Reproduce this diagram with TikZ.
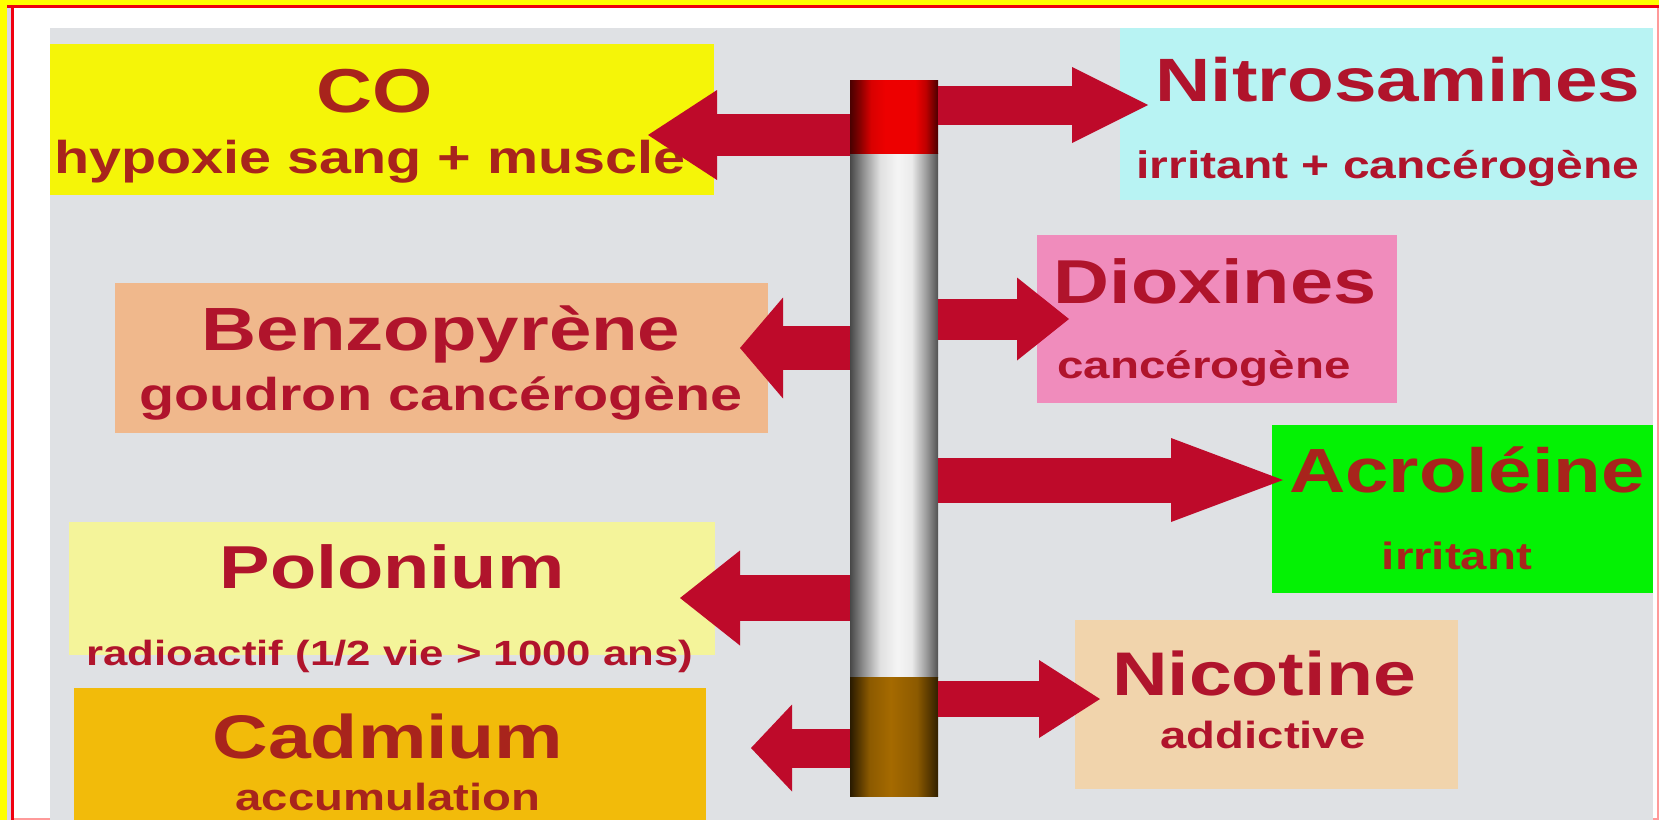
\documentclass[tikz,border=0pt]{standalone}
\usepackage{fontspec}
\newfontfamily\labelfont{Liberation Sans}[FakeStretch=1.25]
\usetikzlibrary{calc, positioning}
\usetikzlibrary{arrows.meta}
\definecolor{panelgray}{HTML}{DFE1E4}
\definecolor{framered}{HTML}{F00010}
\definecolor{framepink}{HTML}{FF9A9A}
\definecolor{frameyellow}{HTML}{FFFF00}
\definecolor{framelilac}{HTML}{D8D4EA}
\definecolor{coyellow}{HTML}{F5F508}
\definecolor{benzopeach}{HTML}{F0B88C}
\definecolor{polopale}{HTML}{F4F49A}
\definecolor{cadmorange}{HTML}{F2BB0A}
\definecolor{nitrocyan}{HTML}{B8F3F3}
\definecolor{dioxpink}{HTML}{F08CBC}
\definecolor{acrogreen}{HTML}{04F204}
\definecolor{nicobeige}{HTML}{F1D4AC}
\definecolor{labelred}{HTML}{B0142C}
\definecolor{labelbrown}{HTML}{A8241C}
\definecolor{arrowred}{HTML}{BE0A2A}
\definecolor{emberdark}{HTML}{4A0000}
\definecolor{filterbrown}{HTML}{A56A00}
\pgfdeclarehorizontalshading{embershade}{100bp}{
  color(0bp)=(emberdark); color(25bp)=(emberdark); color(30bp)=(red!50!black);
  color(37bp)=(red!85!black); color(45bp)=(red!93!black); color(62bp)=(red!93!black);
  color(68bp)=(red!75!black); color(75bp)=(emberdark); color(100bp)=(emberdark)}
\pgfdeclarehorizontalshading{papershade}{100bp}{
  color(0bp)=(black!72); color(25bp)=(black!72); color(33bp)=(black!42);
  color(42bp)=(black!12); color(52bp)=(black!4); color(60bp)=(black!8);
  color(68bp)=(black!38); color(75bp)=(black!68); color(100bp)=(black!68)}
\pgfdeclarehorizontalshading{filtershade}{100bp}{
  color(0bp)=(filterbrown!25!black); color(25bp)=(filterbrown!25!black);
  color(36bp)=(filterbrown!85!black); color(48bp)=(filterbrown); color(63bp)=(filterbrown!85!black);
  color(75bp)=(filterbrown!30!black); color(100bp)=(filterbrown!30!black)}
\tikzset{
  labelbox/.style={rectangle, anchor=north west, inner sep=0pt, outer sep=0pt},
  labeltext/.style={anchor=base, inner sep=0pt},
  cigpart/.style={rectangle, inner sep=0pt, outer sep=0pt, minimum width=44pt},
  blockarrow/.style={draw=arrowred, line cap=butt}
}
\begin{document}
\begin{tikzpicture}[x=0.5pt,y=-0.5pt,node distance=0pt]
\useasboundingbox (0,0) rectangle (1659,820);
\fill[white] (0,0) rectangle (1659,820);
\fill[frameyellow] (0,0) rectangle (1659,5);
\fill[frameyellow] (0,0) rectangle (7,820);
\fill[framelilac] (7,5) rectangle (11,820);
\fill[framered] (7,5) rectangle (1659,8);
\fill[framered] (11,5) rectangle (14,820);
\fill[framepink] (14,818) rectangle (1659,820);
\fill[framepink] (1657,8) rectangle (1659,820);
\fill[panelgray] (50,28) rectangle (1653,820);

\foreach \name/\xa/\ya/\xb/\yb/\tint in {CObox/50/44/714/195/coyellow,
    Benzobox/115/283/768/433/benzopeach,
    Polobox/69/522/715/655/polopale,
    Cadmbox/74/688/706/820/cadmorange,
    Nitrobox/1120/28/1653/200/nitrocyan,
    Dioxbox/1037/235/1397/403/dioxpink,
    Acrobox/1272/425/1653/593/acrogreen,
    Nicobox/1075/620/1458/789/nicobeige} {
  \pgfmathsetmacro{\boxw}{(\xb-\xa)/2}
  \pgfmathsetmacro{\boxh}{(\yb-\ya)/2}
  \node[labelbox, fill=\tint, minimum width=\boxw pt, minimum height=\boxh pt] (\name) at (\xa,\ya) {};
}

\foreach \name/\xpos/\ypos/\size/\ink/\words in {COhead/375/112/31/labelbrown/CO,
    COsub/370/173/23/labelbrown/hypoxie sang + muscle,
    Benzohead/441/350/30.5/labelred/Benzopyrène,
    Benzosub/441/410/23/labelred/goudron cancérogène,
    Polohead/392/588/30.3/labelred/Polonium,
    Polosub/390/665/17.5/labelred/{radioactif (1/2 vie > 1000 ans)},
    Cadmhead/388/758/30.8/labelbrown/Cadmium,
    Cadmsub/388/810/18.9/labelbrown/accumulation,
    Nitrohead/1398/101/30.6/labelred/Nitrosamines,
    Nitrosub/1388/178/19.2/labelred/irritant + cancérogène,
    Dioxhead/1215/303/31/labelred/Dioxines,
    Dioxsub/1204/378/19/labelred/cancérogène,
    Acrohead/1467/492/31.2/labelbrown/Acroléine,
    Acrosub/1457/569/19/labelbrown/irritant,
    Nicohead/1264/695/30.8/labelred/Nicotine,
    Nicosub/1263/748/18.9/labelred/addictive} {
  \node[labeltext, text=\ink, font=\labelfont\bfseries\fontsize{\size}{\size}\selectfont] (\name) at (\xpos,\ypos) {\words};
}

\node[cigpart, minimum height=262pt, shade, shading=papershade] (paper) at (894,415) {};
\node[cigpart, minimum height=36.5pt, shade, shading=embershade, above=of paper] (ember) {};
\node[cigpart, minimum height=59.5pt, shade, shading=filtershade, below=of paper] (filter) {};

\foreach \name/\side/\xtip/\ytip/\headl/\headw/\shaft in {COtip/west/648/135/34.5/45/21,
    Benzotip/west/740/348/21.5/50.5/22,
    Polotip/west/680/598/30/47.5/23,
    Cadmtip/west/751/748/20.5/43.5/19.5,
    Nitrotip/east/1148/105/38/38/19.5,
    Dioxtip/east/1069/319/26/41.5/20.5,
    Acrotip/east/1283/480/56/42/22.5,
    Nicotip/east/1100/699/30.5/39/18} {
  \coordinate (\name) at (\xtip,\ytip);
  \draw[blockarrow, line width=\shaft pt, -{Triangle[length=\headl pt, width=\headw pt, line width=0pt]}]
    (paper.\side |- \name) -- (\name);
}
\end{tikzpicture}
\end{document}
